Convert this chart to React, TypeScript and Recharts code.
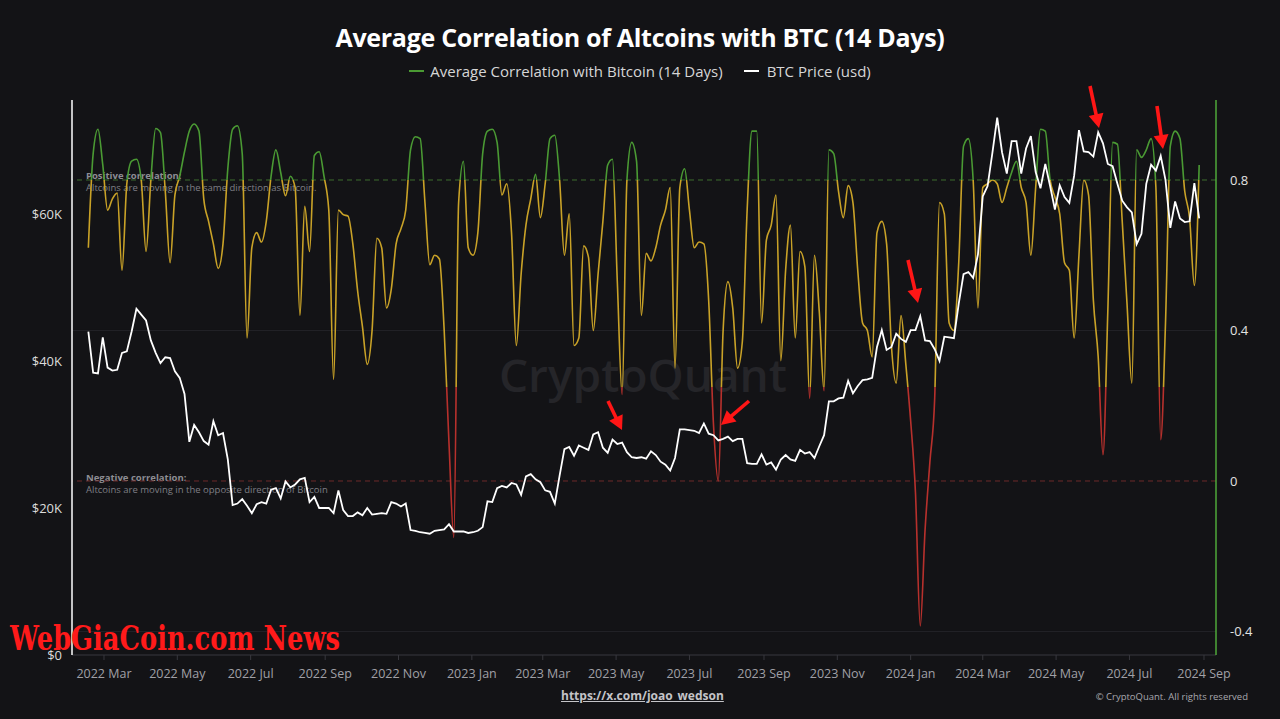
import React from 'react';
import { ComposedChart, Line, XAxis, YAxis, ReferenceLine } from 'recharts';

// ---------- data ----------
const START_DATE_UTC = Date.UTC(2022, 1, 16); // first sample: 2022-02-16
const STEP_DAYS = 4;

const correlation14d: number[] = [
  0.62, 0.87, 0.935, 0.84, 0.72, 0.75, 0.765, 0.56, 0.79, 0.85,
  0.855, 0.80, 0.61, 0.80, 0.937, 0.926, 0.77, 0.58, 0.76, 0.81,
  0.875, 0.93, 0.949, 0.93, 0.75, 0.69, 0.63, 0.565, 0.63, 0.83,
  0.935, 0.944, 0.87, 0.38, 0.62, 0.66, 0.635, 0.69, 0.81, 0.88,
  0.82, 0.758, 0.81, 0.78, 0.44, 0.73, 0.61, 0.865, 0.875, 0.81,
  0.72, 0.27, 0.72, 0.708, 0.704, 0.63, 0.505, 0.41, 0.31, 0.40,
  0.645, 0.62, 0.46, 0.51, 0.63, 0.67, 0.72, 0.88, 0.915, 0.91,
  0.74, 0.575, 0.60, 0.59, 0.40, 0.10, -0.15, 0.74, 0.85, 0.62,
  0.60, 0.66, 0.87, 0.93, 0.935, 0.90, 0.76, 0.79, 0.66, 0.36,
  0.55, 0.68, 0.75, 0.815, 0.70, 0.79, 0.91, 0.919, 0.80, 0.60,
  0.71, 0.36, 0.38, 0.625, 0.595, 0.40, 0.55, 0.69, 0.84, 0.855,
  0.53, 0.23, 0.80, 0.90, 0.85, 0.44, 0.605, 0.585, 0.62, 0.68,
  0.72, 0.78, 0.30, 0.78, 0.83, 0.72, 0.62, 0.635, 0.63, 0.48,
  0.15, 0.00, 0.40, 0.53, 0.46, 0.30, 0.37, 0.72, 0.93, 0.93,
  0.42, 0.64, 0.68, 0.76, 0.32, 0.56, 0.68, 0.38, 0.61, 0.57,
  0.22, 0.60, 0.45, 0.24, 0.88, 0.87, 0.77, 0.70, 0.785, 0.74,
  0.56, 0.42, 0.40, 0.33, 0.66, 0.69, 0.63, 0.36, 0.26, 0.44,
  0.31, 0.16, -0.03, -0.385, -0.13, 0.05, 0.22, 0.74, 0.71, 0.42,
  0.40, 0.58, 0.89, 0.91, 0.80, 0.46, 0.78, 0.79, 0.80, 0.79,
  0.74, 0.78, 0.82, 0.85, 0.78, 0.74, 0.60, 0.78, 0.935, 0.93,
  0.80, 0.755, 0.71, 0.58, 0.56, 0.38, 0.60, 0.80, 0.76, 0.48,
  0.33, 0.07, 0.45, 0.90, 0.895, 0.69, 0.47, 0.26, 0.88, 0.86,
  0.88, 0.91, 0.78, 0.11, 0.42, 0.89, 0.93, 0.91, 0.77, 0.70,
  0.52, 0.84,
];

const btcPriceUsd: number[] = [
  44000, 38400, 38300, 43200, 39100, 38700, 38800, 41100, 41300, 44000,
  47100, 46300, 45500, 42800, 41100, 39700, 40500, 40400, 38600, 37700,
  35500, 29000, 31300, 30300, 29100, 28600, 31800, 29900, 30200, 26600,
  20400, 20600, 21200, 20300, 19300, 20500, 20800, 20600, 22500, 22700,
  21300, 23600, 22800, 23200, 23900, 24100, 20800, 21500, 20000, 20000,
  20000, 19300, 22400, 19700, 18900, 18900, 19400, 19000, 20000, 19100,
  19200, 19300, 19200, 20800, 20600, 20200, 20600, 17000, 16900, 16700,
  16600, 16500, 16900, 17000, 17100, 17800, 16800, 16800, 16800, 16600,
  16700, 16900, 17400, 20900, 20800, 22700, 23000, 22800, 23400, 23200,
  21800, 24300, 24600, 23900, 23500, 22400, 22200, 20600, 24400, 28000,
  28300, 27100, 28500, 28200, 27900, 30000, 30300, 28200, 27500, 29300,
  28700, 28900, 27600, 26900, 26800, 26900, 26700, 27700, 27200, 26300,
  25900, 25100, 26800, 30700, 30700, 30600, 30500, 30200, 31500, 30100,
  29900, 29200, 29400, 29700, 29100, 29400, 29400, 26100, 26000, 26000,
  27300, 25900, 26200, 25200, 26600, 27200, 26600, 26400, 27900, 27400,
  27600, 26800, 28400, 29900, 34500, 34500, 34900, 35000, 37300, 35600,
  36600, 37400, 37500, 37700, 41900, 44200, 41500, 41900, 43700, 43000,
  42600, 44200, 44200, 46100, 42800, 42700, 41600, 40000, 43300, 43200,
  43100, 47800, 51800, 52100, 51300, 54500, 62400, 63800, 68300, 73100,
  68400, 65500, 69900, 69900, 65500, 68900, 70600, 65700, 63500, 66800,
  63800, 60600, 63900, 62300, 61500, 65200, 71400, 68500, 68400, 67800,
  71100, 69600, 66800, 66500, 64100, 61800, 60900, 60200, 55900, 57300,
  64100, 66700, 65900, 67900, 64600, 58100, 61700, 59400, 58900, 59000,
  64200, 59400,
];

const X_TICK_LABELS = [
  '2022 Mar', '2022 May', '2022 Jul', '2022 Sep', '2022 Nov',
  '2023 Jan', '2023 Mar', '2023 May', '2023 Jul', '2023 Sep', '2023 Nov',
  '2024 Jan', '2024 Mar', '2024 May', '2024 Jul', '2024 Sep',
];
const LEFT_TICKS = [0, 20000, 40000, 60000];
const RIGHT_TICKS = [-0.4, 0, 0.4, 0.8];

const POSITIVE_LEVEL = 0.8;
const LOW_LEVEL = 0.25;

// ---------- derived ----------
const MONTHS = ['Jan','Feb','Mar','Apr','May','Jun','Jul','Aug','Sep','Oct','Nov','Dec'];
const DAY_MS = 86400000;
const tickDays = X_TICK_LABELS.map((lbl) => {
  const [y, m] = lbl.split(' ');
  return Math.round((Date.UTC(Number(y), MONTHS.indexOf(m), 1) - START_DATE_UTC) / DAY_MS);
});
const tickLabelByDay: Record<number, string> = {};
tickDays.forEach((d, i) => { tickLabelByDay[d] = X_TICK_LABELS[i]; });

const chartData = correlation14d.map((c, i) => ({
  day: i * STEP_DAYS,
  corr: c,
  btc: btcPriceUsd[i],
}));

const cMax = Math.max(...correlation14d);
const cMin = Math.min(...correlation14d);
const offGreen = (cMax - POSITIVE_LEVEL) / (cMax - cMin);
const offRed = (cMax - LOW_LEVEL) / (cMax - cMin);

// ---------- styles ----------
const BG = '#131316';
const GREEN = '#4a9a33';
const GOLD = '#c9a227';
const RED = '#b8302c';
const FONT = "'Open Sans', 'Noto Sans', sans-serif";

const ARROWS = [
  { x1: 608, y1: 401, x2: 622, y2: 430 },
  { x1: 749, y1: 401, x2: 721, y2: 425 },
  { x1: 908, y1: 260, x2: 918, y2: 303 },
  { x1: 1090, y1: 86, x2: 1099, y2: 128 },
  { x1: 1157, y1: 106, x2: 1163, y2: 149 },
];

function Arrow({ x1, y1, x2, y2 }: { x1: number; y1: number; x2: number; y2: number }) {
  const dx = x2 - x1, dy = y2 - y1;
  const len = Math.hypot(dx, dy);
  const ux = dx / len, uy = dy / len;
  const hl = 14, hw = 7.5;
  const bx = x2 - ux * hl, by = y2 - uy * hl;
  const px = -uy, py = ux;
  return (
    <g>
      <line x1={x1} y1={y1} x2={bx + ux * 2} y2={by + uy * 2} stroke="#ff1616" strokeWidth={3.6} />
      <polygon
        points={`${x2},${y2} ${bx + px * hw},${by + py * hw} ${bx - px * hw},${by - py * hw}`}
        fill="#ff1616"
      />
    </g>
  );
}

export default function App() {
  return (
    <div
      style={{
        position: 'absolute', left: 0, top: 0, width: 1280, height: 719,
        background: BG, overflow: 'hidden', fontFamily: FONT,
      }}
    >
      <svg width="0" height="0" style={{ position: 'absolute' }}>
        <defs>
          <linearGradient id="corrGrad" x1="0" y1="0" x2="0" y2="1">
            <stop offset={0} stopColor={GREEN} />
            <stop offset={offGreen} stopColor={GREEN} />
            <stop offset={offGreen} stopColor={GOLD} />
            <stop offset={offRed} stopColor={GOLD} />
            <stop offset={offRed} stopColor={RED} />
            <stop offset={1} stopColor={RED} />
          </linearGradient>
        </defs>
      </svg>

      {/* background layer: watermark + annotations */}
      <svg width={1280} height={719} style={{ position: 'absolute', left: 0, top: 0 }}>
        <text x={643} y={392} textAnchor="middle" fontSize={46} fontWeight={600}
          fill="#252529" fontFamily={FONT}>CryptoQuant</text>
        <text x={86} y={179} fontSize={9.5} fontWeight={700} fill="#8d8d93" fontFamily={FONT}>
          Positive correlation:
        </text>
        <text x={86} y={191} fontSize={9.5} fill="#7f7f85" fontFamily={FONT}>
          Altcoins are moving in the same direction as Bitcoin.
        </text>
        <text x={86} y={481} fontSize={9.5} fontWeight={700} fill="#8d8d93" fontFamily={FONT}>
          Negative correlation:
        </text>
        <text x={86} y={493} fontSize={9.5} fill="#7f7f85" fontFamily={FONT}>
          Altcoins are moving in the opposite direction of Bitcoin
        </text>
      </svg>

      {/* title */}
      <div style={{
        position: 'absolute', left: 0, top: 20, width: 1280, textAlign: 'center',
        color: '#ffffff', fontSize: 25, fontWeight: 700, letterSpacing: -0.3,
      }}>
        Average Correlation of Altcoins with BTC (14 Days)
      </div>

      {/* legend */}
      <div style={{
        position: 'absolute', left: 0, top: 61, width: 1280, display: 'flex',
        justifyContent: 'center', alignItems: 'center', color: '#d6d6d6', fontSize: 15,
      }}>
        <span style={{ display: 'inline-block', width: 15, height: 2, background: GREEN, marginRight: 6 }} />
        <span>Average Correlation with Bitcoin (14 Days)</span>
        <span style={{ display: 'inline-block', width: 15, height: 2, background: '#ffffff', marginLeft: 21, marginRight: 8 }} />
        <span>BTC Price (usd)</span>
      </div>

      {/* chart */}
      <div style={{ position: 'absolute', left: 0, top: 0 }}>
        <ComposedChart
          width={1280}
          height={719}
          data={chartData}
          margin={{ top: 100, right: 4, bottom: 34, left: 12 }}
        >
          <XAxis
            dataKey="day"
            type="number"
            domain={[-13.6, 938]}
            allowDataOverflow
            ticks={tickDays}
            tickFormatter={(v: number) => tickLabelByDay[v] ?? ''}
            axisLine={{ stroke: '#38383e' }}
            tickLine={{ stroke: '#38383e' }}
            tickSize={5}
            tickMargin={9}
            height={30}
            interval={0}
            tick={{ fill: '#a0a0a6', fontSize: 12.5, fontFamily: FONT }}
          />
          <YAxis
            yAxisId="left"
            orientation="left"
            domain={[0, 75500]}
            allowDataOverflow
            ticks={LEFT_TICKS}
            tickFormatter={(v: number) => (v === 0 ? '$0' : `$${v / 1000}K`)}
            axisLine={{ stroke: '#ffffff', strokeWidth: 1.5 }}
            tickLine={false}
            tickMargin={4}
            width={60}
            interval={0}
            tick={{ fill: '#dcdcdc', fontSize: 13, fontFamily: FONT }}
          />
          <YAxis
            yAxisId="right"
            orientation="right"
            domain={[-0.4625, 1.0126]}
            allowDataOverflow
            ticks={RIGHT_TICKS}
            tickFormatter={(v: number) => String(v)}
            axisLine={{ stroke: '#4fa83a', strokeWidth: 1.5 }}
            tickLine={false}
            tickMargin={8}
            width={60}
            interval={0}
            tick={{ fill: '#e2e2e2', fontSize: 13, fontFamily: FONT }}
          />
          <ReferenceLine yAxisId="right" y={0.4} stroke="#222227" strokeWidth={1} />
          <ReferenceLine yAxisId="right" y={-0.4} stroke="#222227" strokeWidth={1} />
          <ReferenceLine yAxisId="right" y={POSITIVE_LEVEL} stroke="#3e6e2f" strokeDasharray="5 4" strokeWidth={1} />
          <ReferenceLine yAxisId="right" y={0} stroke="#6e2a2a" strokeDasharray="5 4" strokeWidth={1} />
          <Line
            yAxisId="right"
            dataKey="corr"
            type="monotone"
            stroke="url(#corrGrad)"
            strokeWidth={1.6}
            dot={false}
            activeDot={false}
            isAnimationActive={false}
          />
          <Line
            yAxisId="left"
            dataKey="btc"
            type="linear"
            stroke="#ffffff"
            strokeWidth={1.8}
            dot={false}
            activeDot={false}
            isAnimationActive={false}
          />
        </ComposedChart>
      </div>

      {/* foreground overlay: arrows + site text */}
      <svg width={1280} height={719} style={{ position: 'absolute', left: 0, top: 0, pointerEvents: 'none' }}>
        {ARROWS.map((a, i) => <Arrow key={i} {...a} />)}
        <text x={10} y={650} fontSize={33} fontWeight={700} fill="#ff1a1a"
          fontFamily="'DejaVu Serif', serif" textLength={330} lengthAdjust="spacingAndGlyphs">
          WebGiaCoin.com News
        </text>
      </svg>

      {/* footer */}
      <div style={{
        position: 'absolute', left: 561, top: 687, width: 175, color: '#c4c4c8', fontSize: 12,
        fontWeight: 700, textDecoration: 'underline',
      }}>
        https://x.com/joao_wedson
      </div>
      <div style={{
        position: 'absolute', right: 32, top: 690, color: '#a8a8ae', fontSize: 9.5,
      }}>
        © CryptoQuant. All rights reserved
      </div>
    </div>
  );
}
